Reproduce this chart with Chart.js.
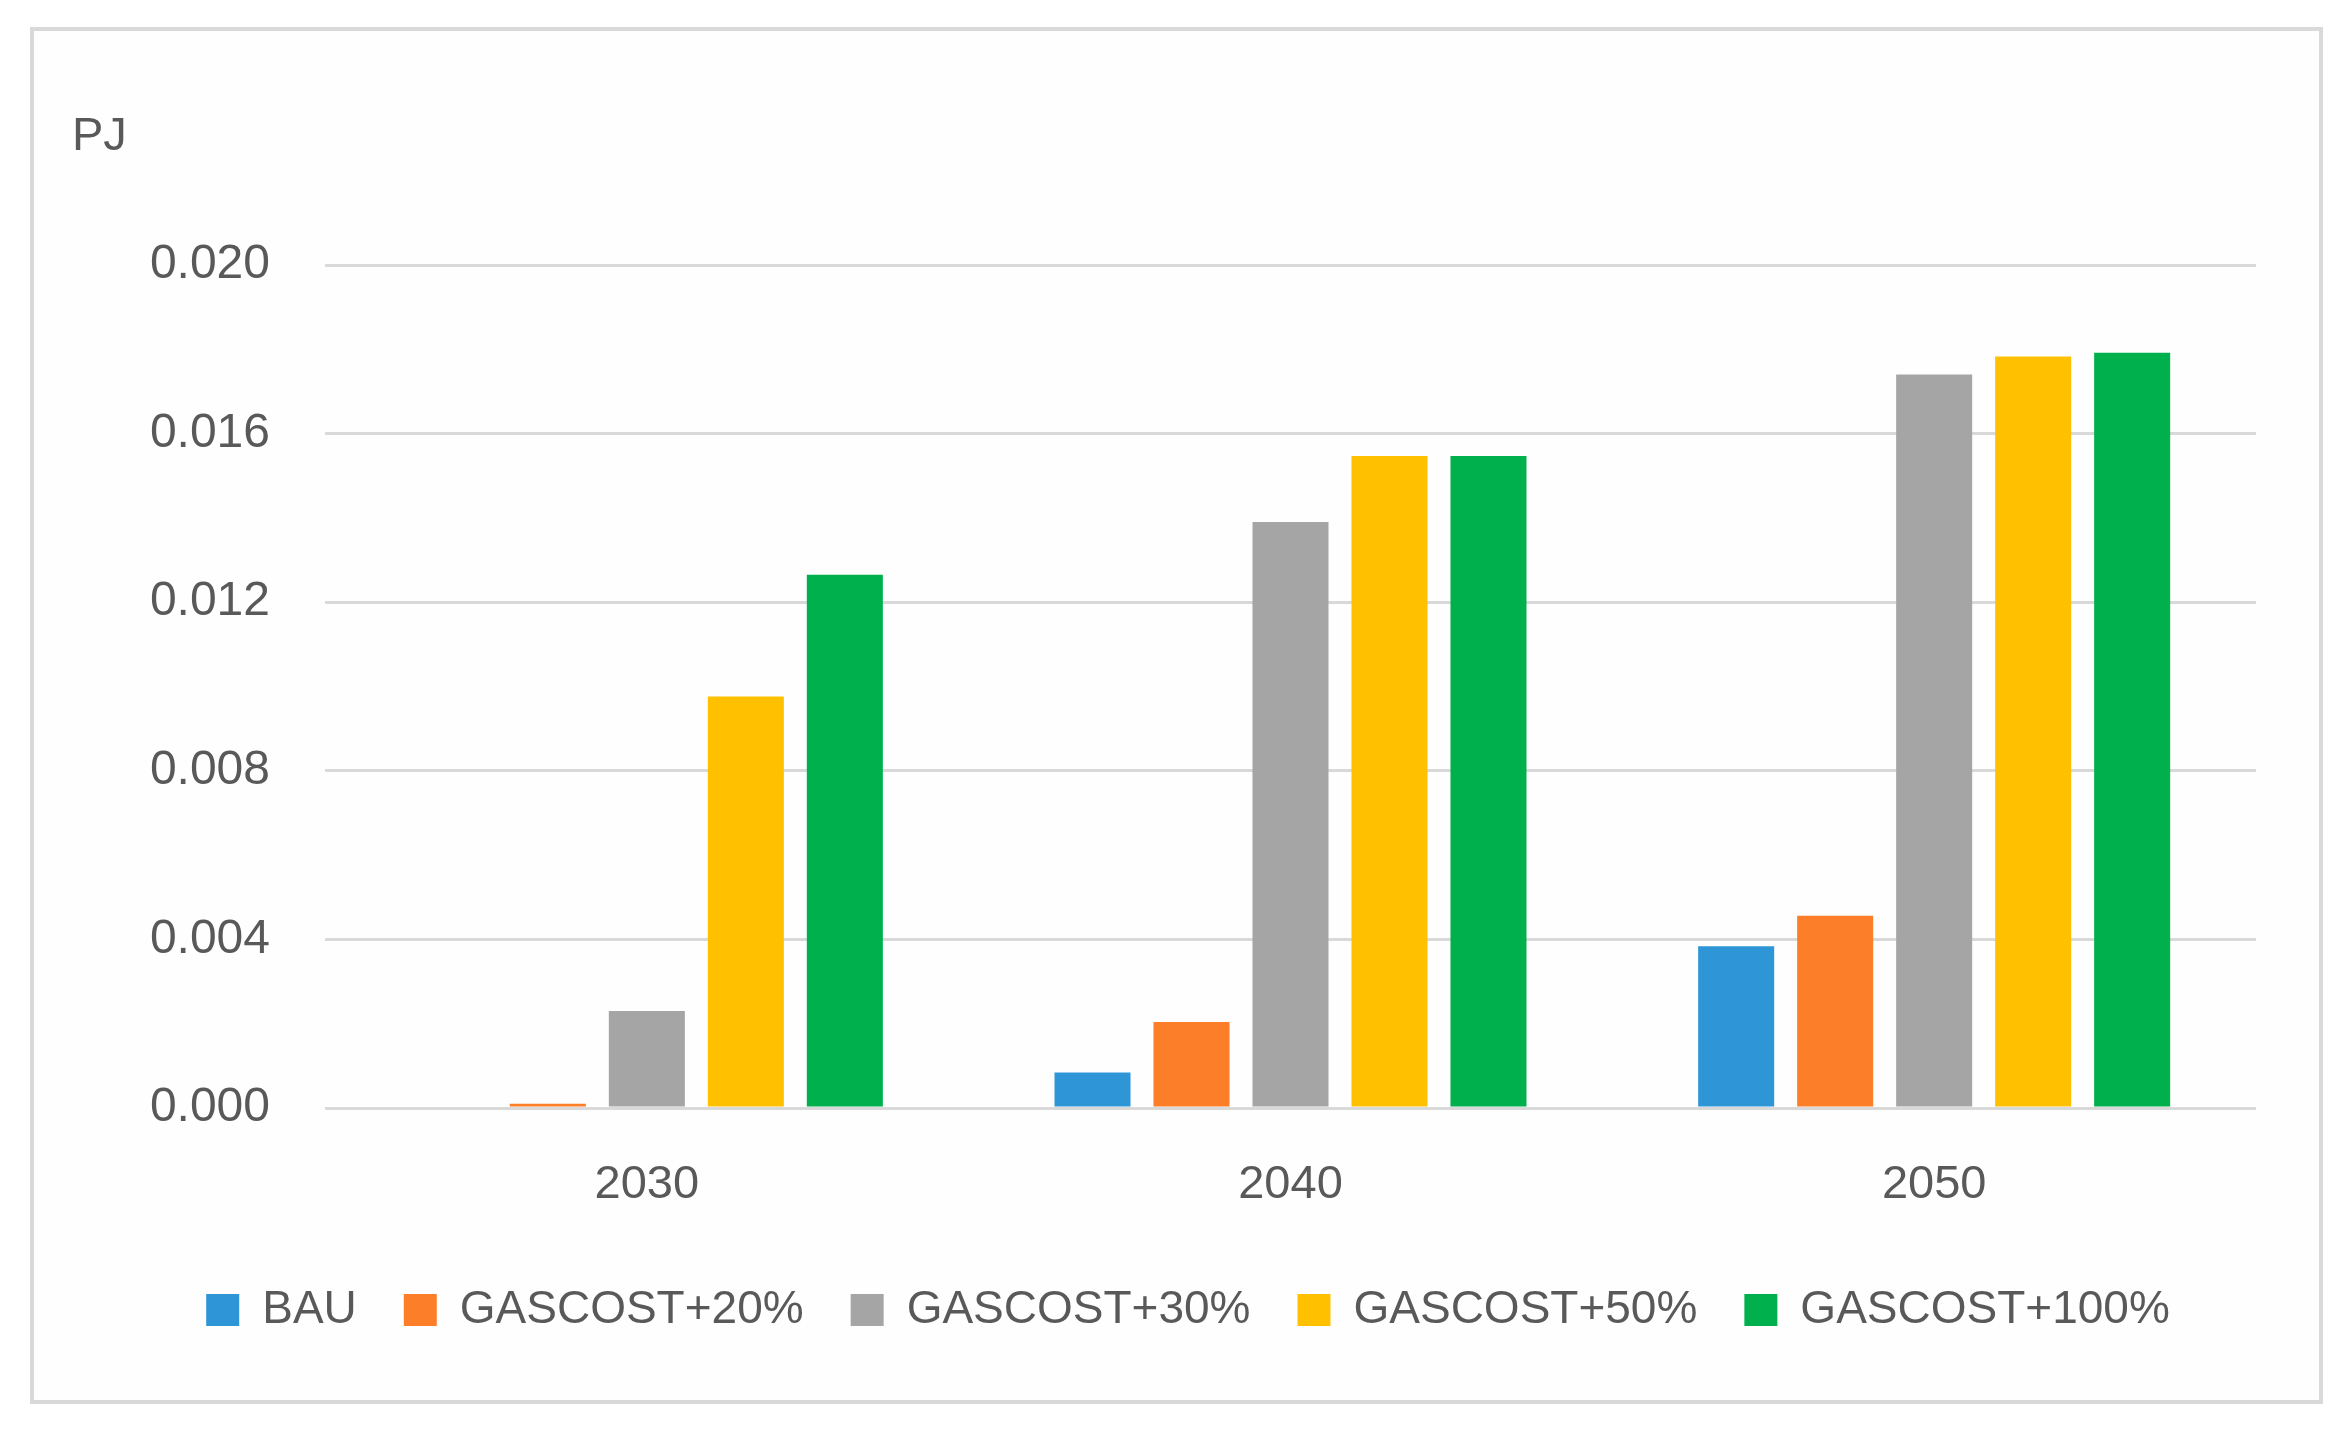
<!DOCTYPE html>
<html>
<head>
<meta charset="utf-8">
<script src="https://cdn.jsdelivr.net/npm/chart.js@4"></script>
<style>
  html, body { margin: 0; padding: 0; background: #ffffff; }
  #frame {
    position: absolute; left: 30px; top: 27px;
    width: 2293px; height: 1377px;
    border: 4px solid #d9d9d9; box-sizing: border-box;
    background: #fefefe;
  }
  #chart { display: block; }
</style>
</head>
<body>
<div id="frame">
  <canvas id="chart" width="2285" height="1369"></canvas>
</div>
<script>
// values (PJ)
const years = ['2030', '2040', '2050'];
const seriesNames = ['BAU', 'GASCOST+20%', 'GASCOST+30%', 'GASCOST+50%', 'GASCOST+100%'];
const bau     = [0,       0.00084, 0.00384];
const gas20   = [0.0001,  0.00204, 0.00456];
const gas30   = [0.0023,  0.0139,  0.0174];
const gas50   = [0.00976, 0.01547, 0.01783];
const gas100  = [0.01265, 0.01547, 0.01792];
const colors  = ['#2e96d6', '#fd7e28', '#a5a5a5', '#ffc000', '#00b04c'];
const yTicks  = [0, 0.004, 0.008, 0.012, 0.016, 0.020];

const FONT = '"Liberation Sans", Arial, sans-serif';
const TEXT = '#595959';

// the "PJ" unit label sits above the value axis
const unitLabel = {
  id: 'unitLabel',
  afterDraw(chart) {
    const ctx = chart.ctx;
    ctx.save();
    ctx.font = '47px ' + FONT;
    ctx.fillStyle = TEXT;
    ctx.textAlign = 'left';
    ctx.textBaseline = 'middle';
    ctx.fillText('PJ', 38, 106);
    ctx.restore();
  }
};

const allSeries = [bau, gas20, gas30, gas50, gas100];
const datasets = allSeries.map((vals, i) => ({
  label: seriesNames[i],
  data: vals,
  backgroundColor: colors[i],
  borderWidth: 0,
  categoryPercentage: 0.769,
  barPercentage: 0.768
}));

new Chart(document.getElementById('chart').getContext('2d'), {
  type: 'bar',
  data: { labels: years, datasets: datasets },
  options: {
    responsive: false,
    animation: false,
    devicePixelRatio: 1,
    layout: { padding: { left: 86, right: 63, top: 234, bottom: 57 } },
    plugins: {
      title: { display: false },
      tooltip: { enabled: false },
      legend: {
        position: 'bottom',
        labels: {
          color: TEXT,
          font: { family: FONT, size: 46 },
          boxWidth: 33,
          boxHeight: 32,
          padding: 47
        }
      }
    },
    scales: {
      x: {
        grid: { display: false, drawTicks: false },
        border: { display: false },
        ticks: { color: TEXT, font: { family: FONT, size: 47 }, padding: 49 },
        afterFit(scale) { scale.height = 132; }
      },
      y: {
        min: 0,
        max: 0.02,
        afterBuildTicks(scale) { scale.ticks = yTicks.map(v => ({ value: v })); },
        grid: { color: '#d9d9d9', lineWidth: 3, drawTicks: false },
        border: { display: false },
        ticks: {
          color: TEXT,
          font: { family: FONT, size: 48 },
          padding: 55,
          callback: v => Number(v).toFixed(3)
        },
        afterFit(scale) { scale.width = 205; }
      }
    }
  },
  plugins: [unitLabel]
});
</script>
</body>
</html>
